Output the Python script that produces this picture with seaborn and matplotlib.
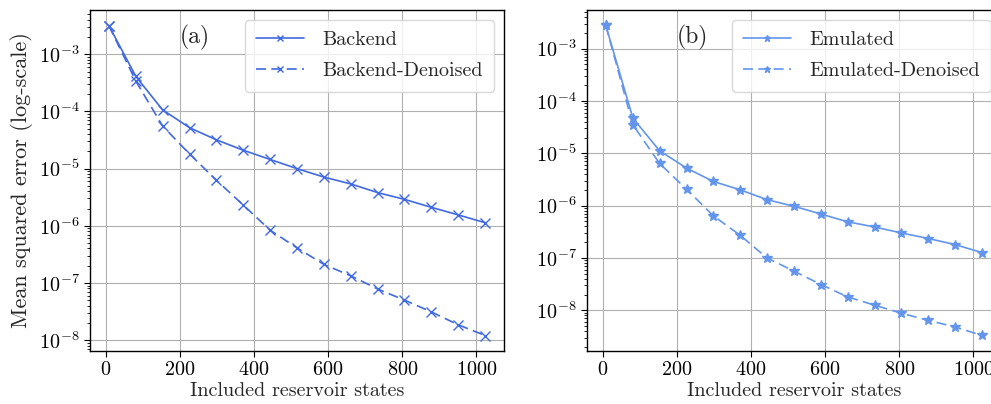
import numpy as np
import pandas as pd
import matplotlib
matplotlib.use("Agg")
import matplotlib.pyplot as plt
import seaborn as sns

# ---- data ----
states = [8, 81, 153, 226, 298, 371, 443, 516, 589, 661, 734, 806, 879, 951, 1024]
backend = [3.2e-3, 4.1e-4, 1.07e-4, 5.2e-5, 3.2e-5, 2.1e-5, 1.45e-5, 1.0e-5,
           7.1e-6, 5.4e-6, 3.8e-6, 2.9e-6, 2.1e-6, 1.55e-6, 1.13e-6]
backend_denoised = [3.2e-3, 3.4e-4, 5.6e-5, 1.8e-5, 6.3e-6, 2.3e-6, 8.4e-7, 4.1e-7,
                    2.1e-7, 1.33e-7, 7.8e-8, 5.0e-8, 3.1e-8, 1.85e-8, 1.2e-8]
emulated = [2.76e-3, 4.7e-5, 1.12e-5, 5.2e-6, 2.9e-6, 2.0e-6, 1.3e-6, 9.7e-7,
            6.9e-7, 4.9e-7, 3.9e-7, 3.0e-7, 2.35e-7, 1.8e-7, 1.26e-7]
emulated_denoised = [2.76e-3, 3.5e-5, 6.4e-6, 2.05e-6, 6.4e-7, 2.7e-7, 1.0e-7, 5.6e-8,
                     3.1e-8, 1.8e-8, 1.25e-8, 8.8e-9, 6.4e-9, 4.8e-9, 3.3e-9]
xticks = [0, 200, 400, 600, 800, 1000]

sns.set_style("ticks")
plt.rcParams.update({
    "font.family": ["cmr10", "DejaVu Serif"],
    "mathtext.fontset": "cm",
    "axes.unicode_minus": False,
    "axes.formatter.use_mathtext": True,
    "font.size": 14.5,
    "axes.edgecolor": "black",
    "axes.linewidth": 1.0,
    "xtick.color": "black",
    "ytick.color": "black",
    "xtick.direction": "out",
    "ytick.direction": "out",
})

W, H = 991, 404
fig = plt.figure(figsize=(W / 100, H / 100), dpi=100)
ax_w = (504 - 90) / W
ax_h = (351 - 10) / H
ax_b = (H - 351) / H
axA = fig.add_axes([90 / W, ax_b, ax_w, ax_h])
axB = fig.add_axes([587 / W, ax_b, ax_w, ax_h])

LW = 1.2

def draw(ax, y1, y2, lab1, lab2, color, marker, panel, ms, mew):
    df1 = pd.DataFrame({"x": states, "y": y1})
    df2 = pd.DataFrame({"x": states, "y": y2})
    sns.lineplot(data=df1, x="x", y="y", ax=ax, color=color, marker=marker,
                 markersize=ms, linewidth=LW, label=lab1, markeredgecolor=color,
                 markeredgewidth=mew)
    sns.lineplot(data=df2, x="x", y="y", ax=ax, color=color, marker=marker,
                 markersize=ms, linewidth=LW, label=lab2,
                 markeredgecolor=color, markeredgewidth=mew)
    ax.lines[-1].set_dashes((6, 3.2))
    ax.set_yscale("log")
    ax.set_xticks(xticks)
    ax.set_xlim(-42.8, 1074.8)
    ax.grid(True, which="major", color="#b0b0b0", linewidth=0.8)
    ax.set_axisbelow(True)
    for s in ax.spines.values():
        s.set_visible(True)
        s.set_color("black")
    ax.set_xlabel("Included reservoir states", labelpad=2)
    ax.set_ylabel("")
    ax.tick_params(which="major", length=4, width=0.8, labelsize=14.5)
    ax.tick_params(which="minor", length=2, width=0.6)
    ax.text(0.254, 0.92, panel, transform=ax.transAxes, ha="center", va="center",
            fontsize=17)
    ax.legend(loc="upper right", fontsize=14.5, frameon=True, fancybox=True,
              framealpha=0.8, edgecolor="#d0d0d0", handlelength=2.4,
              markerscale=0.6, labelspacing=0.65, borderpad=0.55,
              handletextpad=0.9, borderaxespad=0.5)

draw(axA, backend, backend_denoised, "Backend", "Backend-Denoised",
     "#4169E1", "x", "(a)", 7, 1.0)
draw(axB, emulated, emulated_denoised, "Emulated", "Emulated-Denoised",
     "#6495ED", "*", "(b)", 7.5, 1.0)
axA.set_ylabel("Mean squared error (log-scale)", fontsize=16)

fig.savefig("out.png", dpi=100)
